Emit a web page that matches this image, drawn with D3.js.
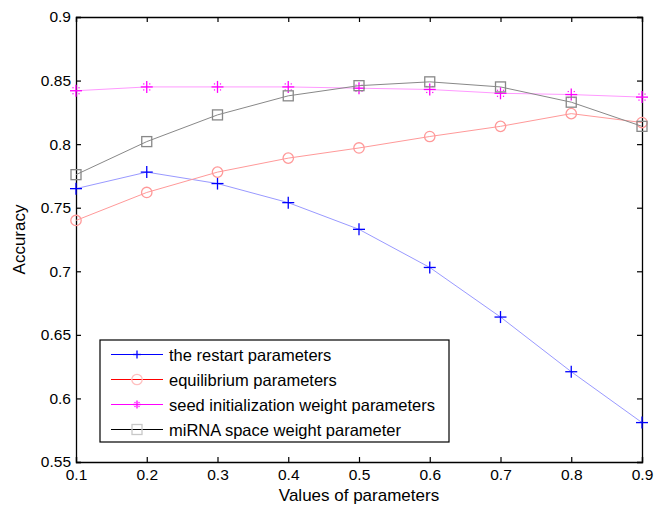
<!DOCTYPE html>
<html>
<head>
<meta charset="utf-8">
<script src="https://cdn.jsdelivr.net/npm/d3@7"></script>
<style>
  body { margin: 0; background: #fff; }
  svg text { font-family: "Liberation Sans", Arial, sans-serif; fill: #000; }
</style>
</head>
<body>
<div id="chart"></div>
<script>
// Données
const params = [0.1, 0.2, 0.3, 0.4, 0.5, 0.6, 0.7, 0.8, 0.9];
const restart = [0.765, 0.778, 0.769, 0.754, 0.733, 0.703, 0.664, 0.621, 0.581];
const equilibrium = [0.740, 0.762, 0.778, 0.789, 0.797, 0.806, 0.814, 0.824, 0.817];
const seedWeight = [0.842, 0.845, 0.845, 0.845, 0.844, 0.843, 0.840, 0.839, 0.837];
const mirnaWeight = [0.776, 0.802, 0.823, 0.838, 0.846, 0.849, 0.845, 0.833, 0.814];
const yTicks = [0.55, 0.6, 0.65, 0.7, 0.75, 0.8, 0.85, 0.9];
const seriesNames = ['the restart parameters', 'equilibrium parameters',
  'seed initialization weight parameters', 'miRNA space weight parameter'];

const series = [
  { name: seriesNames[0], values: restart, line: '#9999ff', mark: '#0000ff', legLine: '#0000ff', legMark: '#0000ff', shape: 'plus' },
  { name: seriesNames[1], values: equilibrium, line: '#ff9999', mark: '#ff9999', legLine: '#ff0000', legMark: '#ffc0c0', shape: 'circle' },
  { name: seriesNames[2], values: seedWeight, line: '#ff99ff', mark: '#ff00ff', legLine: '#ff00ff', legMark: '#ff00ff', shape: 'star' },
  { name: seriesNames[3], values: mirnaWeight, line: '#888888', mark: '#888888', legLine: '#000000', legMark: '#c8c8c8', shape: 'square' }
];

const width = 654, height = 506;
const margin = { top: 17, right: 12, bottom: 44, left: 76 };
const w = width - margin.left - margin.right;
const h = height - margin.top - margin.bottom;

const svg = d3.select('#chart').append('svg')
  .attr('width', width).attr('height', height);
const g = svg.append('g').attr('transform', `translate(${margin.left},${margin.top})`);

const x = d3.scaleLinear().domain([0.1, 0.9]).range([0, w]);
const y = d3.scaleLinear().domain([0.55, 0.9]).range([h, 0]);

// Axes (ticks vers l'intérieur, boîte complète façon Matlab)
const fmt = d => String(+d.toFixed(2));
g.append('g').attr('transform', `translate(0,${h})`)
  .call(d3.axisBottom(x).tickValues(params).tickSize(-5).tickPadding(7).tickFormat(fmt));
g.append('g')
  .call(d3.axisLeft(y).tickValues(yTicks).tickSize(-5).tickPadding(5).tickFormat(fmt));
g.append('g')
  .call(d3.axisTop(x).tickValues(params).tickSize(-5).tickFormat(''));
g.append('g').attr('transform', `translate(${w},0)`)
  .call(d3.axisRight(y).tickValues(yTicks).tickSize(-5).tickFormat(''));
g.selectAll('.domain').attr('stroke', '#000').attr('stroke-width', 1.3);
g.selectAll('.tick line').attr('stroke', '#000').attr('stroke-width', 1.2);
g.selectAll('.tick text').style('font-size', '15.5px')
  .style('font-family', '"Liberation Sans", Arial, sans-serif');

// Titres des axes
svg.append('text').attr('x', margin.left + w / 2).attr('y', 501)
  .attr('text-anchor', 'middle').style('font-size', '17px').text('Values of parameters');
svg.append('text').attr('transform', `translate(25,${margin.top + h / 2}) rotate(-90)`)
  .attr('text-anchor', 'middle').style('font-size', '17px').text('Accuracy');

// Dessiner un marqueur (k = demi-taille des croix)
function drawMarker(sel, shape, color, cx, cy, k = 6) {
  const m = sel.append('g').attr('transform', `translate(${cx},${cy})`)
    .attr('fill', 'none').attr('stroke', color).attr('stroke-width', 1.3);
  if (shape === 'plus' || shape === 'star') {
    m.append('line').attr('x1', -k).attr('x2', k).attr('y1', 0).attr('y2', 0);
    m.append('line').attr('x1', 0).attr('x2', 0).attr('y1', -k).attr('y2', k);
    if (shape === 'star') {
      const d = k / 2;
      [[-d, -d], [d, -d], [-d, d], [d, d]].forEach(p => {
        m.append('rect').attr('x', p[0] - 0.6).attr('y', p[1] - 0.6)
          .attr('width', 1.2).attr('height', 1.2).attr('fill', color).attr('stroke', 'none');
      });
    }
  } else if (shape === 'circle') {
    m.append('circle').attr('r', 5.2);
  } else if (shape === 'square') {
    m.append('rect').attr('x', -5).attr('y', -5).attr('width', 10).attr('height', 10);
  }
}

// Tracer les courbes
const line = d3.line().x((d, i) => x(params[i])).y(d => y(d));
series.forEach(s => {
  g.append('path').datum(s.values)
    .attr('fill', 'none').attr('stroke', s.line).attr('stroke-width', 1)
    .attr('d', line);
  s.values.forEach((v, i) => drawMarker(g, s.shape, s.mark, x(params[i]), y(v)));
});

// Légende
const leg = svg.append('g').attr('transform', 'translate(100,340)');
leg.append('rect').attr('width', 349).attr('height', 102)
  .attr('fill', '#fff').attr('stroke', '#000').attr('stroke-width', 1.2);
series.forEach((s, i) => {
  const ly = 14.5 + i * 25;
  leg.append('line').attr('x1', 11).attr('x2', 63).attr('y1', ly).attr('y2', ly)
    .attr('stroke', s.legLine).attr('stroke-width', 1);
  drawMarker(leg, s.shape, s.legMark, 37, ly, 4);
  leg.append('text').attr('x', 69).attr('y', ly + 6).style('font-size', '16.5px').text(s.name);
});
</script>
</body>
</html>
